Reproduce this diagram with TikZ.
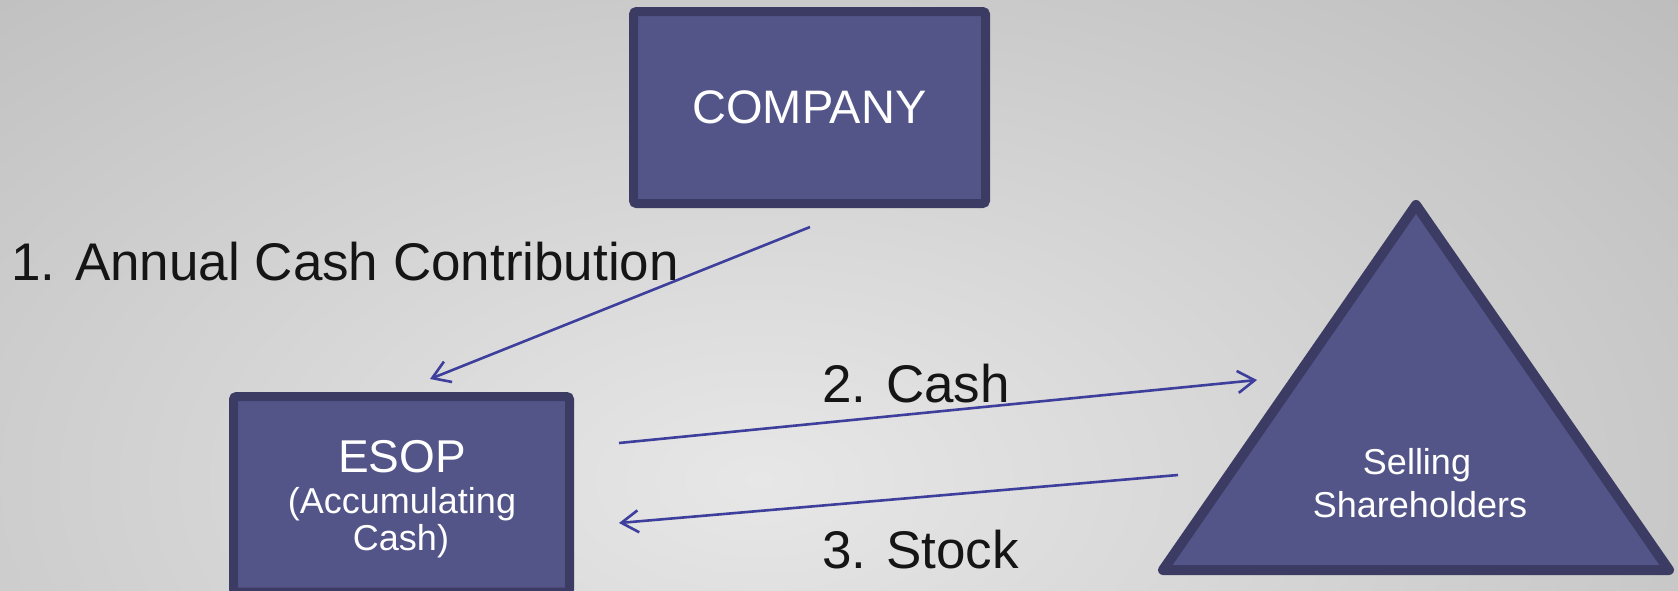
\documentclass[tikz,border=0pt]{standalone}
\usepackage{fontspec}
\setmainfont{Liberation Sans}
\usetikzlibrary{arrows.meta}

\definecolor{boxfill}{HTML}{535589}
\definecolor{boxline}{HTML}{3C3B63}
\definecolor{flow}{HTML}{3E3E9C}
\definecolor{bgedge}{HTML}{B8B8B8}
\definecolor{bgcenter}{HTML}{E7E7E7}
\definecolor{labelink}{HTML}{151515}

% soft grey glow behind the diagram (path edge sits at 25bp)
\pgfdeclareradialshading{bgglow}{\pgfpoint{0bp}{0bp}}{color(0bp)=(bgcenter); color(25bp)=(bgedge); color(50bp)=(bgedge)}

\tikzset{
  entitybox/.style={draw=boxline, fill=boxfill, line width=9pt, rounded corners=3pt,
    inner sep=0pt, text=white, font=\fontsize{47}{54}\selectfont},
  entitytri/.style={draw=boxline, fill=boxfill, line width=10pt, line join=round},
  boxtitle/.style={inner sep=0pt, anchor=base, text=white, font=\fontsize{46}{52}\selectfont},
  boxsub/.style={inner sep=0pt, anchor=base, text=white, font=\fontsize{36}{42}\selectfont},
  steplabel/.style={inner sep=0pt, anchor=base west, text=labelink, font=\fontsize{53}{60}\selectfont},
  flowarrow/.style={draw=flow, line width=2.6pt,
    -{Straight Barb[length=17pt,width=22pt,line width=2.6pt]}},
}

\begin{document}
\begin{tikzpicture}[x=1pt,y=-1pt]
  \useasboundingbox (0,0) rectangle (1678,590);

  % background
  \fill[bgedge] (0,0) rectangle (1678,590);
  \begin{scope}
    \clip (0,0) rectangle (1678,590);
    \shade[shading=bgglow] (760,480) ellipse [x radius=1400, y radius=800];
  \end{scope}

  % company
  \node[entitybox, minimum width=352pt, minimum height=192pt] (company) at (809.5,107.5) {COMPANY};

  % ESOP trust
  \node[entitybox, minimum width=336pt, minimum height=195.5pt] (esop) at (401.5,494.25) {};
  \node[boxtitle] (esoptitle) at (402,472) {ESOP};
  \node[boxsub] (esopsub1) at (402,513) {(Accumulating};
  \node[boxsub] (esopsub2) at (401,550) {Cash)};

  % selling shareholders
  \coordinate (apex) at (1416,205);
  \coordinate (baseleft) at (1163,570);
  \coordinate (baseright) at (1669,570);
  \draw[entitytri] (apex) -- (baseleft) -- (baseright) -- cycle;
  \node[boxsub] (selling) at (1417,474) {Selling};
  \node[boxsub] (holders) at (1420,517) {Shareholders};

  % step labels
  \node[steplabel] (step1) at (11,280) {1. Annual Cash Contribution};
  \node[steplabel] (step2) at (822,402) {2. Cash};
  \node[steplabel] (step3) at (822,568) {3. Stock};

  % flows
  \coordinate (contribfrom) at (810,227);
  \coordinate (contribto) at (430,379);
  \coordinate (cashfrom) at (619,443);
  \coordinate (cashto) at (1257,380);
  \coordinate (stockfrom) at (1178,475);
  \coordinate (stockto) at (619,523);
  \draw[flowarrow] (contribfrom) -- (contribto);
  \draw[flowarrow] (cashfrom) -- (cashto);
  \draw[flowarrow] (stockfrom) -- (stockto);
\end{tikzpicture}
\end{document}
